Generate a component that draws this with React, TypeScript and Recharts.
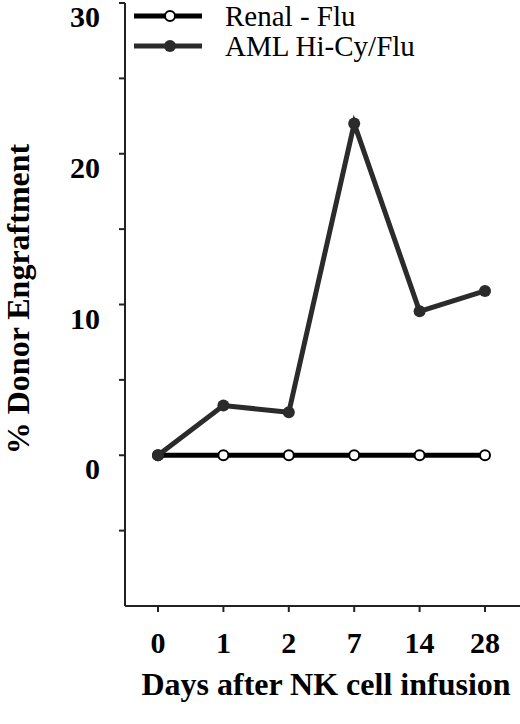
import React from "react";
import { LineChart, Line, XAxis, YAxis, Legend } from "recharts";

const days = ["0", "1", "2", "7", "14", "28"];
const renalFlu = [0, 0, 0, 0, 0, 0];
const amlHiCyFlu = [0, 3.3, 2.85, 22.0, 9.55, 10.9];
const yTicks = [-5, 0, 5, 10, 15, 20, 25, 30];
const yLabelled = [0, 10, 20, 30];

const RENAL = "Renal - Flu";
const AML = "AML Hi-Cy/Flu";
const seriesOrder = [RENAL, AML];

const data = days.map((d, i) => ({
  day: d,
  [RENAL]: renalFlu[i],
  [AML]: amlHiCyFlu[i],
}));

const font = '"Liberation Serif", "Times New Roman", serif';
const ink = "#000";
const aml = "#2b2b2b";

const YTick = (props: any) => {
  const { x, y, payload } = props;
  if (!yLabelled.includes(payload.value)) return null;
  return (
    <text x={x - 17} y={y + 24} textAnchor="end" fontFamily={font} fontWeight="bold" fontSize={30} fill={ink}>
      {payload.value}
    </text>
  );
};

const XTick = (props: any) => {
  const { x, y, payload } = props;
  return (
    <text x={x} y={y + 39} textAnchor="middle" fontFamily={font} fontWeight="bold" fontSize={30} fill={ink}>
      {payload.value}
    </text>
  );
};

const LegendBox = (props: any) => {
  const items = [...(props.payload || [])].sort(
    (a: any, b: any) => seriesOrder.indexOf(a.value) - seriesOrder.indexOf(b.value)
  );
  return (
    <svg width={340} height={74} style={{ overflow: "visible" }}>
      {items.map((it: any, i: number) => {
        const y = 16 + i * 30;
        const open = it.value === RENAL;
        const c = open ? ink : aml;
        return (
          <g key={it.value}>
            <line x1={14} x2={82} y1={y} y2={y} stroke={c} strokeWidth={5} />
            <circle cx={50} cy={y} r={open ? 5 : 6} fill={open ? "#fff" : c} stroke={open ? c : "none"} strokeWidth={2} />
            <text x={105} y={y + 10} fontFamily={font} fontSize={29} fill={ink}>
              {it.value}
            </text>
          </g>
        );
      })}
    </svg>
  );
};

export default function App() {
  return (
    <div style={{ position: "absolute", left: 0, top: 0, width: 520, height: 724, background: "#fff" }}>
      <LineChart width={520} height={724} data={data} margin={{ top: 3, right: 0, left: 0, bottom: 0 }}>
        <XAxis
          dataKey="day"
          height={118}
          padding={{ left: 33, right: 35 }}
          stroke="#222"
          strokeWidth={2}
          tickSize={6}
          tick={<XTick />}
          interval={0}
          label={() => (
            <text x={326} y={695} textAnchor="middle" fontFamily={font} fontWeight="bold" fontSize={32} fill={ink}>
              Days after NK cell infusion
            </text>
          )}
        />
        <YAxis
          width={125}
          domain={[-10, 30]}
          ticks={yTicks}
          interval={0}
          stroke="#222"
          strokeWidth={2}
          tickSize={6}
          tick={<YTick />}
          label={() => (
            <text
              x={29}
              y={299}
              transform="rotate(-90, 29, 299)"
              textAnchor="middle"
              fontFamily={font}
              fontWeight="bold"
              fontSize={32}
              fill={ink}
            >
              % Donor Engraftment
            </text>
          )}
        />
        <Legend
          layout="vertical"
          align="center"
          verticalAlign="middle"
          content={<LegendBox />}
          wrapperStyle={{ top: 0, left: 120, width: 340, height: 74 }}
        />
        <Line
          dataKey={RENAL}
          stroke={ink}
          strokeWidth={5}
          dot={{ r: 5, fill: "#fff", stroke: ink, strokeWidth: 2 }}
          isAnimationActive={false}
        />
        <Line
          dataKey={AML}
          stroke={aml}
          strokeWidth={5}
          dot={{ r: 6, fill: aml, stroke: aml, strokeWidth: 0 }}
          isAnimationActive={false}
        />
      </LineChart>
    </div>
  );
}
